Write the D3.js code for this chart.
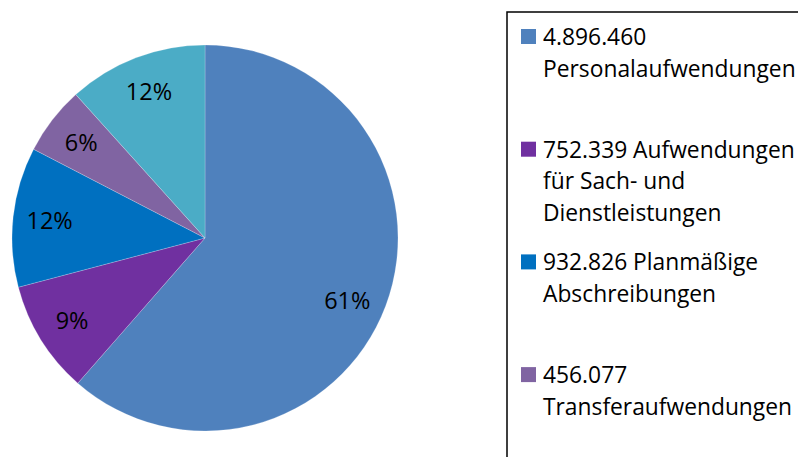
<!DOCTYPE html>
<html>
<head>
<meta charset="utf-8">
<script src="https://cdn.jsdelivr.net/npm/d3@7"></script>
<style>
  body { margin: 0; background: #fff; overflow: hidden; }
  text { font-family: "Open Sans", sans-serif; }
</style>
</head>
<body>
<div id="chart"></div>
<script>
const categories = ["Personalaufwendungen", "Aufwendungen für Sach- und Dienstleistungen", "Planmäßige Abschreibungen", "Transferaufwendungen", "Sonstige ordentliche Aufwendungen"];
const values = [4896460, 752339, 932826, 456077, 930000];
const colors = ["#4f81bd", "#7030a0", "#0070c0", "#8064a2", "#4bacc6"];
// legend text as wrapped in the original
const legendLabels = [
  ["4.896.460", "Personalaufwendungen"],
  ["752.339 Aufwendungen", "für Sach- und", "Dienstleistungen"],
  ["932.826 Planmäßige", "Abschreibungen"],
  ["456.077", "Transferaufwendungen"],
  ["930.000 Sonstige", "ordentliche", "Aufwendungen"]
];

const width = 798;
const height = 457;
const cx = 205, cy = 238, radius = 193;

const svg = d3.select("#chart")
              .append("svg")
              .attr("width", width)
              .attr("height", height)

const total = d3.sum(values)
const pie = d3.pie().sort(null).value(d => d)
const arcs = pie(values)

const arc = d3.arc().innerRadius(0).outerRadius(radius)
const labelArc = d3.arc().innerRadius(radius * 0.81).outerRadius(radius * 0.81)

const g = svg.append("g")
             .attr("transform", `translate(${cx},${cy})`)

g.selectAll("path")
 .data(arcs)
 .enter()
 .append("path")
 .attr("d", arc)
 .attr("fill", (d, i) => colors[i])
 .attr("stroke", "#ffffff")
 .attr("stroke-opacity", 0.35)
 .attr("stroke-width", 0.6)

g.selectAll("text")
 .data(arcs)
 .enter()
 .append("text")
 .attr("transform", (d, i) => {
   const [x, y] = labelArc.centroid(d)
   return i === 0 ? `translate(${x - 4},${y + 8})` : `translate(${x},${y})`
 })
 .attr("text-anchor", "middle")
 .attr("dy", "0.35em")
 .attr("font-size", 23.5)
 .attr("fill", "#000")
 .text(d => `${Math.round(d.value / total * 100)}%`)

// legend
const legendX = 507, legendY = 12;
const legend = svg.append("g")

legend.append("rect")
      .attr("x", legendX)
      .attr("y", legendY)
      .attr("width", 400)
      .attr("height", 600)
      .attr("fill", "none")
      .attr("stroke", "#000")
      .attr("stroke-width", 1.5)

const entryStep = 112.7, lineStep = 31.5, firstBaseline = 45;

// only the entries that fall inside the visible frame
const visible = categories.map((d, i) => i).filter(i => firstBaseline + i * entryStep < height)

const entries = legend.selectAll("g.entry")
                      .data(visible)
                      .enter()
                      .append("g")
                      .attr("class", "entry")
                      .attr("transform", i => `translate(0,${firstBaseline + i * entryStep})`)

entries.append("rect")
       .attr("x", 521)
       .attr("y", -16)
       .attr("width", 15)
       .attr("height", 15)
       .attr("fill", i => colors[i])

entries.append("text")
       .attr("x", 543)
       .attr("y", 0)
       .attr("font-size", 22.8)
       .attr("fill", "#000")
       .selectAll("tspan")
       .data(i => legendLabels[i])
       .enter()
       .append("tspan")
       .attr("x", 543)
       .attr("dy", (d, j) => j === 0 ? 0 : lineStep)
       .text(d => d)
</script>
</body>
</html>
